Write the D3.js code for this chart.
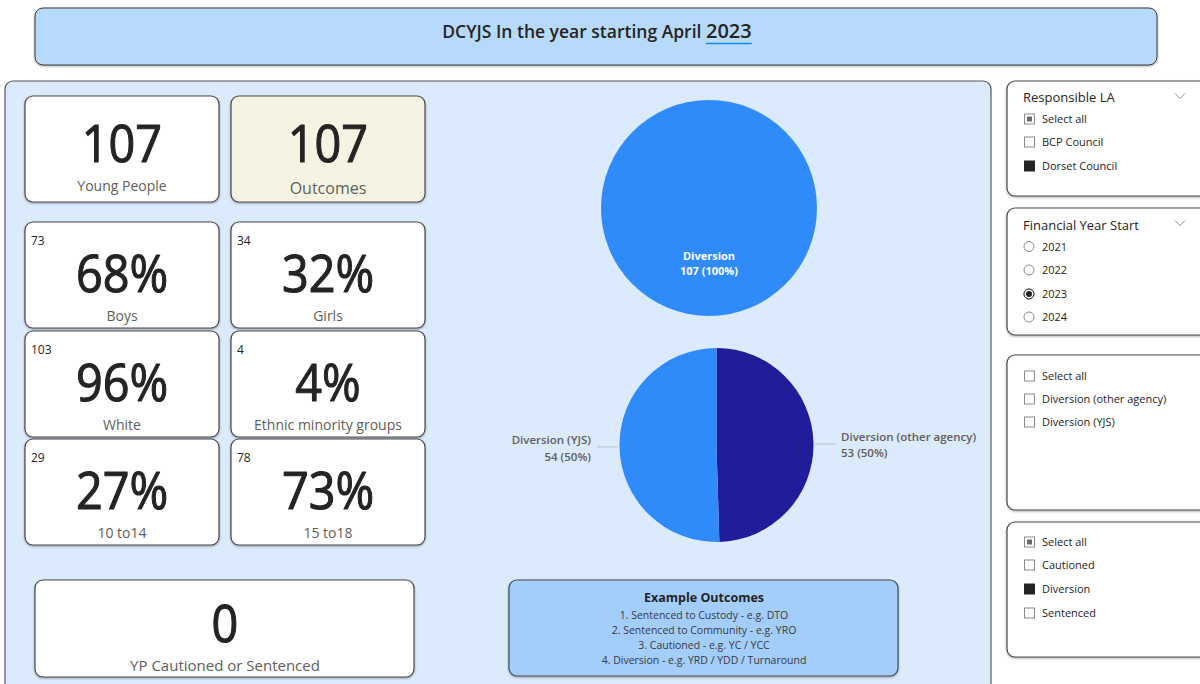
<!DOCTYPE html>
<html><head><meta charset="utf-8">
<script src="https://cdn.jsdelivr.net/npm/d3@7/dist/d3.min.js"></script>
<style>
html,body{margin:0;padding:0;background:#fff;}
svg{display:block;}
text{font-family:"Open Sans","Noto Sans",sans-serif;}
</style></head>
<body>
<svg id="c" width="1200" height="684"></svg>
<script>
// ---------- DATA ----------
const titleText = "DCYJS In the year starting April";
const titleYear = "2023";

const cardLabels  = ["Young People","Outcomes","Boys","Girls","White","Ethnic minority groups","10 to14","15 to18"];
const cardCounts  = [null,null,73,34,103,4,29,78];
const cardValues  = ["107","107","68%","32%","96%","4%","27%","73%"];
const bottomLabel = "YP Cautioned or Sentenced";
const bottomValue = "0";

const outcomeTypes  = ["Diversion"];
const outcomeCounts = [107];
const outcomePcts   = ["100%"];

const diversionTypes  = ["Diversion (other agency)","Diversion (YJS)"];
const diversionCounts = [53,54];
const diversionPcts   = ["50%","50%"];

const exampleTitle = "Example Outcomes";
const exampleLines = ["1. Sentenced to Custody - e.g. DTO","2. Sentenced to Community - e.g. YRO","3. Cautioned - e.g. YC / YCC","4. Diversion - e.g. YRD / YDD / Turnaround"];

const laTitle = "Responsible LA";
const laItems = ["Select all","BCP Council","Dorset Council"];
const laState = ["partial","off","on"];
const fyTitle = "Financial Year Start";
const fyItems = ["2021","2022","2023","2024"];
const fySelected = "2023";
const divItems = ["Select all","Diversion (other agency)","Diversion (YJS)"];
const divState = ["off","off","off"];
const typeItems = ["Select all","Cautioned","Diversion","Sentenced"];
const typeState = ["partial","off","on","off"];

// ---------- DRAW ----------
const svg = d3.select("#c");
const defs = svg.append("defs");
const f = defs.append("filter").attr("id","sh").attr("x","-5%").attr("y","-5%").attr("width","110%").attr("height","120%");
f.append("feDropShadow").attr("dx",0).attr("dy",1).attr("stdDeviation",0.8).attr("flood-color","#000").attr("flood-opacity",0.35);

// title
svg.append("rect").attr("x",35).attr("y",8).attr("width",1122).attr("height",57).attr("rx",8)
  .attr("fill","#b7d9fb").attr("stroke","#3b3b3b").attr("stroke-width",1).attr("filter","url(#sh)");
const tt = svg.append("text").attr("x",597).attr("y",38).attr("text-anchor","middle")
  .attr("fill","#252423").attr("font-weight",600);
tt.append("tspan").attr("font-size",17.5).text(titleText + " ");
tt.append("tspan").attr("font-size",20).text(titleYear);
{
  const node = tt.node();
  const n = node.getNumberOfChars();
  const start = node.getStartPositionOfChar(n - titleYear.length).x;
  const end = node.getEndPositionOfChar(n - 1).x;
  svg.append("line").attr("x1",start).attr("x2",end).attr("y1",43.5).attr("y2",43.5)
    .attr("stroke","#118dff").attr("stroke-width",1.5);
}

// main panel
svg.append("rect").attr("x",5).attr("y",81).attr("width",986).attr("height",615).attr("rx",8)
  .attr("fill","#dbeafc").attr("stroke","#555").attr("stroke-width",1.2);

function bigNumber(sel, x, y, v){
  sel.append("text").attr("transform",`translate(${x},${y}) scale(0.9,1)`).attr("text-anchor","middle")
    .attr("font-family","Roboto, sans-serif").attr("font-size",52).attr("fill","#252423")
    .attr("stroke","#252423").attr("stroke-width",1.1).attr("stroke-linejoin","round").text(v);
}

// cards
const colX = [25,231], colW = 194;
const rowY = [96,222,331,439], rowH = [106,106,106,106];
cardValues.forEach((v,i)=>{
  const c = i%2, r = Math.floor(i/2);
  const x = colX[c], y = rowY[r], w = colW, h = rowH[r];
  const g = svg.append("g");
  g.append("rect").attr("x",x).attr("y",y).attr("width",w).attr("height",h).attr("rx",8)
    .attr("fill", i===1 ? "#f5f4e3" : "#fff").attr("stroke","#4a4a4a").attr("stroke-width",1.2).attr("filter","url(#sh)");
  const cx = x + w/2;
  bigNumber(g, cx, r===0 ? y+66 : y+70, v);
  g.append("text").attr("x",cx).attr("y", r===0 ? (i===1 ? y+98 : y+95) : y+99).attr("text-anchor","middle")
    .attr("font-size", i===1 ? 16 : 14).attr("fill","#605e5c").text(cardLabels[i]);
  if(cardCounts[i]!==null){
    g.append("text").attr("x",x+6).attr("y",y+23).attr("font-size",12).attr("fill","#252423").text(cardCounts[i]);
  }
});
// bottom card
svg.append("rect").attr("x",35).attr("y",580).attr("width",379).attr("height",97).attr("rx",8)
  .attr("fill","#fff").attr("stroke","#4a4a4a").attr("stroke-width",1.2).attr("filter","url(#sh)");
bigNumber(svg, 225, 642, bottomValue);
svg.append("text").attr("x",225).attr("y",671).attr("text-anchor","middle").attr("font-size",15)
  .attr("fill","#605e5c").text(bottomLabel);

// pie 1
const pie = d3.pie().sort(null).value(d=>d);
{
  const g = svg.append("g").attr("transform","translate(709,208)");
  const arc = d3.arc().innerRadius(0).outerRadius(108);
  g.selectAll("path").data(pie(outcomeCounts)).join("path").attr("d",arc).attr("fill","#2f8bfa");
  g.append("text").attr("y",52).attr("text-anchor","middle").attr("fill","#fff").attr("font-size",11).attr("font-weight",700).text(outcomeTypes[0]);
  g.append("text").attr("y",67).attr("text-anchor","middle").attr("fill","#fff").attr("font-size",11).attr("font-weight",700).text(`${outcomeCounts[0]} (${outcomePcts[0]})`);
}
// pie 2
{
  const cx=716.5, cy=445, R=97;
  const g = svg.append("g").attr("transform",`translate(${cx},${cy})`);
  const arc = d3.arc().innerRadius(0).outerRadius(R);
  const cols = ["#211c9a","#2f8bfa"];
  const arcs = pie(diversionCounts);
  g.selectAll("path").data(arcs).join("path").attr("d",arc).attr("fill",(d,i)=>cols[i]);
  const lab = svg.append("g").attr("font-size",11.5).attr("font-weight",600).attr("fill","#605e5c");
  svg.append("line").attr("x1",cx+R+2).attr("x2",836).attr("y1",444).attr("y2",444).attr("stroke","#b8c2cc").attr("stroke-width",1);
  lab.append("text").attr("x",841).attr("y",441).text(diversionTypes[0]);
  lab.append("text").attr("x",841).attr("y",457).text(`${diversionCounts[0]} (${diversionPcts[0]})`);
  svg.append("line").attr("x1",597).attr("x2",cx-R-2).attr("y1",447).attr("y2",447).attr("stroke","#b8c2cc").attr("stroke-width",1);
  lab.append("text").attr("x",591).attr("y",444).attr("text-anchor","end").text(diversionTypes[1]);
  lab.append("text").attr("x",591).attr("y",461).attr("text-anchor","end").text(`${diversionCounts[1]} (${diversionPcts[1]})`);
}

// example outcomes box
svg.append("rect").attr("x",509).attr("y",580).attr("width",389).attr("height",96).attr("rx",8)
  .attr("fill","#a3cdfb").attr("stroke","#4a4a4a").attr("stroke-width",1.2).attr("filter","url(#sh)");
svg.append("text").attr("x",704).attr("y",602).attr("text-anchor","middle").attr("font-size",12.5).attr("font-weight",700)
  .attr("fill","#252423").text(exampleTitle);
exampleLines.forEach((l,i)=>{
  svg.append("text").attr("x",704).attr("y",619+i*15).attr("text-anchor","middle").attr("font-size",10.5)
    .attr("fill","#3a3a3a").text(l);
});

// slicers
function slicerBox(y,h){
  svg.append("rect").attr("x",1007).attr("y",y).attr("width",210).attr("height",h).attr("rx",8)
    .attr("fill","#fff").attr("stroke","#4a4a4a").attr("stroke-width",1.2).attr("filter","url(#sh)");
}
function chevron(x,y){
  svg.append("path").attr("d",`M${x-5},${y-2.5} L${x},${y+2.5} L${x+5},${y-2.5}`).attr("fill","none").attr("stroke","#8a8a8a").attr("stroke-width",1);
}
function checkItems(items,states,ys){
  items.forEach((t,i)=>{
    const y = ys[i];
    svg.append("rect").attr("x",1024.5).attr("y",y-5).attr("width",10).attr("height",10)
      .attr("fill", states[i]==="on" ? "#252423" : "#fff").attr("stroke", states[i]==="on" ? "#252423" : "#8a8a8a").attr("stroke-width",1);
    if(states[i]==="partial"){
      svg.append("rect").attr("x",1027).attr("y",y-2.5).attr("width",5).attr("height",5).attr("fill","#6a6a6a");
    }
    svg.append("text").attr("x",1042).attr("y",y+4).attr("font-size",11).attr("fill","#252423").text(t);
  });
}
slicerBox(81,115);
svg.append("text").attr("x",1023).attr("y",102).attr("font-size",13).attr("fill","#252423").text(laTitle);
chevron(1180,96);
checkItems(laItems,laState,[119,142,166]);

slicerBox(208,127);
svg.append("text").attr("x",1023).attr("y",230).attr("font-size",13).attr("fill","#252423").text(fyTitle);
chevron(1180,223);
fyItems.forEach((t,i)=>{
  const y=[246.5,270,294,317][i];
  svg.append("circle").attr("cx",1029).attr("cy",y).attr("r",5).attr("fill","#fff").attr("stroke","#8a8a8a").attr("stroke-width",1);
  if(t===fySelected){
    svg.append("circle").attr("cx",1029).attr("cy",y).attr("r",5).attr("fill","#fff").attr("stroke","#252423").attr("stroke-width",1);
    svg.append("circle").attr("cx",1029).attr("cy",y).attr("r",3).attr("fill","#252423");
  }
  svg.append("text").attr("x",1042).attr("y",y+4).attr("font-size",11).attr("fill","#252423").text(t);
});

slicerBox(355,155);
checkItems(divItems,divState,[376,399,422]);

slicerBox(522,135);
checkItems(typeItems,typeState,[542,565,589,613]);
</script>
</body></html>
